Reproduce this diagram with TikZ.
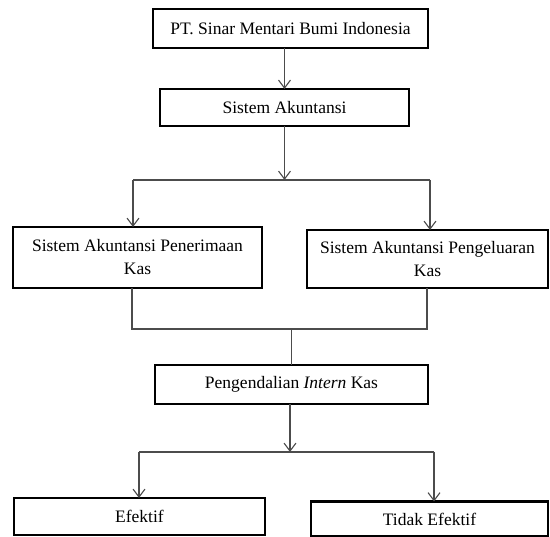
\documentclass[tikz,border=0pt]{standalone}
\usepackage{fontspec}
\setmainfont{Liberation Serif}
\usetikzlibrary{arrows.meta}
\tikzset{
  box/.style={draw=black, line width=2.6pt, fill=white, inner sep=0pt, outer sep=0pt,
    align=center, font=\fontsize{17.5}{23}\selectfont},
  arr/.style={draw=black!70, line width=1.1pt, -{Straight Barb[length=8pt,width=12pt,line width=1.1pt]}},
  ln/.style={draw=black!70, line width=1.1pt}
}
\begin{document}
\begin{tikzpicture}[x=1pt,y=-1pt]
\useasboundingbox[fill=white] (0,0) rectangle (550,537);
\node[box, minimum width=275pt, minimum height=39pt] (b1) at (290.5,28.5) {PT. Sinar Mentari Bumi Indonesia};
\node[box, minimum width=249pt, minimum height=37pt] (b2) at (284.5,107.5) {Sistem Akuntansi};
\node[box, minimum width=249pt, minimum height=61pt] (b3) at (137.5,257.5) {Sistem Akuntansi Penerimaan\\Kas};
\node[box, minimum width=241pt, minimum height=58pt] (b4) at (427.5,259) {Sistem Akuntansi Pengeluaran\\Kas};
\node[box, minimum width=273pt, minimum height=39pt] (b5) at (291.5,384.5) {Pengendalian \textit{Intern} Kas};
\node[box, minimum width=251pt, minimum height=37pt] (b6) at (139.5,516.5) {Efektif};
\node[box, minimum width=237pt, minimum height=35pt] (b7) at (429.5,519) {Tidak Efektif};

\coordinate (j1) at (284.5,180);
\coordinate (l1) at (133,180);
\coordinate (r1) at (430,180);
\coordinate (l2) at (132,329);
\coordinate (r2) at (427,329);
\coordinate (m2) at (291.5,329);
\coordinate (j3) at (290,452);
\coordinate (l3) at (139,452);
\coordinate (r3) at (434,452);

\draw[arr] (b1.south -| b2.north) -- (b2.north);
\draw[arr] (b2.south) -- (j1);
\draw[ln] (l1) -- (r1);
\draw[arr] (l1) -- (l1 |- b3.north);
\draw[arr] (r1) -- (r1 |- b4.north);
\draw[ln] (l2 |- b3.south) -- (l2) -- (r2) -- (r2 |- b4.south);
\draw[ln] (m2) -- (b5.north);
\draw[arr] (b5.south -| j3) -- (j3);
\draw[ln] (l3) -- (r3);
\draw[arr] (l3) -- (l3 |- b6.north);
\draw[arr] (r3) -- (r3 |- b7.north);
\end{tikzpicture}
\end{document}
